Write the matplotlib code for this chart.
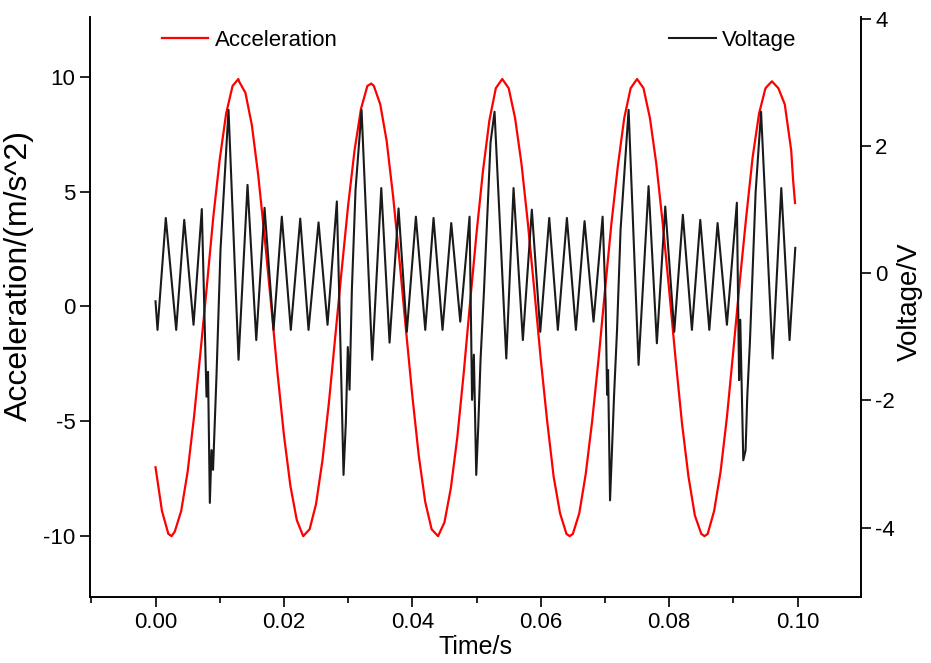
import matplotlib
matplotlib.use('Agg')
import matplotlib.pyplot as plt
from matplotlib.ticker import MultipleLocator, FormatStrFormatter

plt.rcParams['font.family'] = ['Liberation Sans', 'DejaVu Sans']
plt.rcParams['axes.unicode_minus'] = False

# acceleration (time in ms, value in m/s^2)
acc_time_ms = [0, 1, 2, 2.5, 3, 4, 5, 6, 7, 8, 9, 10, 11, 12, 12.9,
               13, 14, 15, 16, 17, 18, 19, 20, 21, 22, 23,
               24, 25, 26, 27, 28, 29, 30, 31, 32, 33, 33.6,
               34, 35, 36, 37, 38, 39, 40, 41, 42, 43, 44,
               45, 46, 47, 48, 49, 50, 51, 52, 53, 54,
               55, 56, 57, 58, 59, 60, 61, 62, 63, 64, 64.5,
               65, 66, 67, 68, 69, 70, 71, 72, 73, 74, 75,
               76, 77, 78, 79, 80, 81, 82, 83, 84, 85, 85.5,
               86, 87, 88, 89, 90, 91, 92, 93, 94, 95, 96,
               97, 98, 99, 99.3, 99.6]
acceleration = [-7.0, -8.9, -9.9, -10.0, -9.8, -8.9, -7.2, -4.8, -2.0, 0.9, 3.9, 6.4, 8.4, 9.6, 9.9,
                9.8, 9.3, 7.9, 5.7, 3.0, 0.1, -2.9, -5.6, -7.8, -9.3, -10.0,
                -9.7, -8.6, -6.7, -4.2, -1.3, 1.6, 4.4, 6.8, 8.6, 9.6, 9.7,
                9.6, 8.8, 7.2, 4.8, 2.0, -1.0, -3.9, -6.5, -8.5, -9.7, -10.0,
                -9.4, -7.9, -5.7, -2.9, 0.2, 3.2, 5.9, 8.1, 9.5, 9.9,
                9.5, 8.2, 6.2, 3.6, 0.7, -2.3, -5.0, -7.4, -9.0, -9.9, -10.0,
                -9.9, -9.0, -7.3, -5.0, -2.3, 0.7, 3.6, 6.1, 8.2, 9.5, 9.9,
                9.5, 8.2, 6.2, 3.6, 0.7, -2.3, -5.1, -7.4, -9.1, -9.9, -10.0,
                -9.9, -8.9, -7.2, -4.8, -1.9, 1.1, 3.9, 6.5, 8.4, 9.5, 9.8,
                9.5, 8.8, 6.8, 5.5, 4.5]

# voltage turning points (time in ms, value in V)
volt_time_ms = [0.00, 0.31, 1.60, 3.22, 4.47, 5.92, 7.21, 7.94, 8.18, 8.46, 8.72, 8.96, 9.50, 10.12,
                11.37, 12.93, 14.33, 15.69, 16.98, 18.38, 19.67, 21.07, 22.54, 23.83, 25.39, 26.79,
                28.24, 28.77, 29.02, 29.28, 29.64, 29.95, 30.22, 30.58, 31.15, 32.09, 33.75, 35.16,
                36.45, 37.85, 39.14, 40.55, 42.01, 43.30, 44.70, 46.06, 47.46, 48.91, 49.30, 49.58,
                49.95, 50.26, 50.62, 51.14, 52.18, 52.80, 54.63, 55.76, 57.21, 58.61, 59.92, 61.32,
                62.66, 64.07, 65.47, 66.82, 68.22, 69.63, 70.09, 70.33, 70.48, 70.79, 71.11, 71.42,
                71.88, 72.43, 73.68, 75.23, 76.79, 78.08, 79.39, 80.79, 82.13, 83.54, 84.84, 86.25,
                87.54, 88.99, 90.54, 90.89, 91.07, 91.54, 91.90, 92.16, 92.57, 93.46, 94.31, 96.11,
                97.46, 98.75, 99.64]
voltage = [-0.44, -0.89, 0.87, -0.89, 0.84, -0.81, 1.01, -1.94, -1.55, -3.61, -2.78, -3.09, -1.60, 0.37,
           2.57, -1.36, 1.39, -1.05, 1.03, -0.89, 0.89, -0.89, 0.86, -0.89, 0.80, -0.81,
           1.13, -1.00, -2.04, -3.17, -2.35, -1.16, -1.83, -0.26, 1.31, 2.57, -1.36, 1.34,
           -1.09, 1.02, -0.92, 0.89, -0.89, 0.87, -0.89, 0.79, -0.76, 0.89, -1.99, -1.28,
           -3.17, -2.42, -1.36, -0.31, 2.06, 2.54, -1.34, 1.34, -1.05, 1.00, -0.92, 0.87,
           -0.89, 0.87, -0.89, 0.82, -0.76, 0.89, -0.42, -1.91, -1.52, -3.57, -2.73, -1.91,
           -0.89, 0.69, 2.57, -1.44, 1.37, -1.10, 1.05, -0.92, 0.92, -0.89, 0.84, -0.89,
           0.79, -0.81, 1.11, -1.68, -0.73, -2.94, -2.78, -1.94, -1.09, 1.27, 2.54, -1.34,
           1.34, -1.05, 0.40]

acc_time = [t / 1000 for t in acc_time_ms]
volt_time = [t / 1000 for t in volt_time_ms]

fig = plt.figure(figsize=(9.31, 6.63), dpi=100)
ax = fig.add_axes([0.0967, 0.0995, 0.8276, 0.8749])
ax2 = ax.twinx()

l1, = ax.plot(acc_time, acceleration, color='#ff0000', lw=1.6, label='Acceleration')
l2, = ax2.plot(volt_time, voltage, color='#1a1a1a', lw=1.5, label='Voltage')

ax.set_xlim(-0.0102, 0.1098)
ax.set_ylim(-12.65, 12.6)
ax2.set_ylim(-5.09, 4.03)

ax.xaxis.set_major_locator(MultipleLocator(0.02))
ax.xaxis.set_minor_locator(MultipleLocator(0.01))
ax.yaxis.set_major_locator(MultipleLocator(5))
ax2.yaxis.set_major_locator(MultipleLocator(2))
ax.xaxis.set_major_formatter(FormatStrFormatter('%.2f'))

for a in (ax, ax2):
    a.spines['top'].set_visible(False)
    for s in a.spines.values():
        s.set_linewidth(1.2)
    a.tick_params(which='major', direction='out', length=7, width=1.2, labelsize=16)
    a.tick_params(which='minor', direction='out', length=4, width=1.2)

ax.set_xlabel('Time/s', fontsize=18, labelpad=2)
ax.set_ylabel('Acceleration/(m/s^2)', fontsize=23)
ax.yaxis.set_label_coords(-0.073, 0.555)
ax2.set_ylabel('Voltage/V', fontsize=20)
ax2.yaxis.set_label_coords(1.047, 0.51)

ax.legend(handles=[l1], loc='upper left', bbox_to_anchor=(0.152, 0.985),
          bbox_transform=fig.transFigure, frameon=False, fontsize=16,
          handlelength=2.1, handletextpad=0.3)
ax2.legend(handles=[l2], loc='upper left', bbox_to_anchor=(0.697, 0.985),
           bbox_transform=fig.transFigure, frameon=False, fontsize=16,
           handlelength=2.1, handletextpad=0.3)

fig.savefig('out.png', dpi=100)
